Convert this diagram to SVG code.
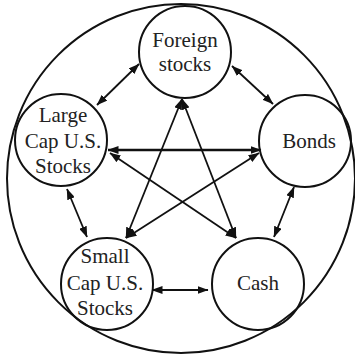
<svg xmlns="http://www.w3.org/2000/svg" width="355" height="358" viewBox="0 0 355 358">
<defs>
<marker id="ah" viewBox="0 0 11 8" refX="10.5" refY="4" markerWidth="11" markerHeight="8" markerUnits="userSpaceOnUse" orient="auto-start-reverse">
<path d="M0,0 L11,4 L0,8 z" fill="#111"/>
</marker>
<style>
.node circle{fill:none;stroke:#111;stroke-width:2}
.node text{font-family:"Liberation Serif","Times New Roman",serif;font-size:21px;fill:#222;text-anchor:middle}
.c line{stroke:#111;stroke-width:1.8;marker-start:url(#ah);marker-end:url(#ah)}
</style>
</defs>
<rect width="355" height="358" fill="#fff"/>
<ellipse id="outer" cx="181" cy="178.5" rx="174" ry="174.5" fill="none" stroke="#111" stroke-width="2"/>
<g id="connectors" class="c">
<line x1="97" y1="105" x2="139" y2="64"/>
<line x1="232" y1="66" x2="273" y2="104"/>
<line x1="108" y1="150" x2="261" y2="150" style="stroke-width:2.6"/>
<line x1="67" y1="189" x2="87" y2="237"/>
<line x1="294" y1="187" x2="274" y2="237"/>
<line x1="152" y1="290" x2="208" y2="290"/>
<line x1="182" y1="99" x2="126" y2="238"/>
<line x1="182" y1="99" x2="236" y2="238"/>
<line x1="110" y1="153" x2="236" y2="238"/>
<line x1="259" y1="153" x2="126" y2="238"/>
</g>
<g id="foreign" class="node"><circle cx="185" cy="52" r="46"/><text x="185" y="47">Foreign</text><text x="185" y="71">stocks</text></g>
<g id="largecap" class="node"><circle cx="61" cy="140" r="46"/><text x="63" y="122">Large</text><text x="63" y="148">Cap U.S.</text><text x="63" y="173">Stocks</text></g>
<g id="bonds" class="node"><circle cx="305" cy="141" r="46"/><text x="309" y="148">Bonds</text></g>
<g id="smallcap" class="node"><circle cx="107" cy="284" r="46"/><text x="105" y="263">Small</text><text x="105" y="290">Cap U.S.</text><text x="105" y="315">Stocks</text></g>
<g id="cash" class="node"><circle cx="258" cy="284" r="46"/><text x="258" y="290">Cash</text></g>
</svg>
